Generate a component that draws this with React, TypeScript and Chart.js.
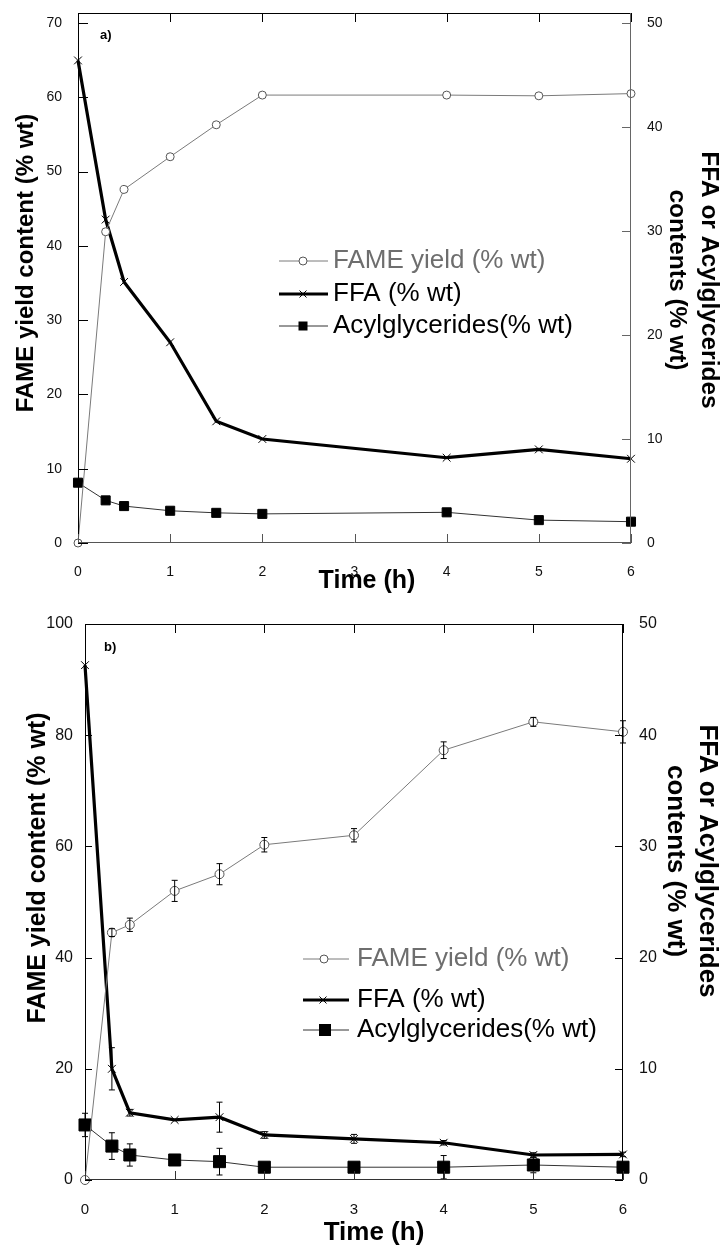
import React, { useEffect, useRef } from "react";
import { Chart, registerables } from "chart.js";

Chart.register(...registerables);

// ---------- Panel a data ----------
const timeA = [0, 0.3, 0.5, 1, 1.5, 2, 4, 5, 6];
const fameA = [0, 41.9, 47.6, 52.0, 56.3, 60.3, 60.3, 60.2, 60.5];
const ffaA = [46.4, 31.1, 25.1, 19.3, 11.7, 10.0, 8.2, 9.0, 8.1];
const acylA = [5.8, 4.1, 3.55, 3.1, 2.9, 2.8, 2.95, 2.2, 2.05];

// ---------- Panel b data ----------
const timeB = [0, 0.3, 0.5, 1, 1.5, 2, 3, 4, 5, 6];
const fameB = [0, 44.5, 45.9, 52.0, 55.0, 60.3, 62.0, 77.3, 82.4, 80.6];
const fameErrB = [0, 0.7, 1.2, 1.9, 1.9, 1.3, 1.2, 1.5, 0.8, 2.0];
const ffaB = [46.3, 10.0, 6.05, 5.4, 5.65, 4.05, 3.7, 3.35, 2.25, 2.3];
const ffaErrB = [0, 1.9, 0.3, 0, 1.35, 0.3, 0.4, 0.2, 0.2, 0.2];
const acylB = [4.95, 3.05, 2.25, 1.8, 1.65, 1.15, 1.15, 1.15, 1.35, 1.15];
const acylErrB = [1.05, 1.2, 1.0, 0.2, 1.2, 0.2, 0.2, 1.05, 0.7, 0.2];

// ---------- Labels ----------
const seriesLabels = ["FAME yield (% wt)", "FFA (% wt)", "Acylglycerides(% wt)"];
const leftTitle = "FAME yield content (% wt)";
const rightTitle = ["FFA or Acylglycerides", "contents (% wt)"];
const xTitle = "Time (h)";
const panelTags = ["a)", "b)"];

const FONT = "'Liberation Sans', Arial, Helvetica, sans-serif";

const pts = (xs: number[], ys: number[]) => xs.map((x, i) => ({ x, y: ys[i] }));

function makePlugin(c: any) {
  return {
    id: "decor" + c.tag,
    afterDatasetsDraw(chart: any) {
      const ctx = chart.ctx;
      const errs = c.errs || [];
      ctx.save();
      ctx.strokeStyle = "#000";
      ctx.lineWidth = 1;
      chart.data.datasets.forEach((ds: any, i: number) => {
        const e = errs[i];
        if (!e) return;
        const meta = chart.getDatasetMeta(i);
        const sc = chart.scales[ds.yAxisID];
        meta.data.forEach((p: any, j: number) => {
          const d = e[j];
          if (!d) return;
          const v = ds.data[j].y;
          const y1 = sc.getPixelForValue(v + d);
          const y2 = sc.getPixelForValue(v - d);
          ctx.beginPath();
          ctx.moveTo(p.x, y1);
          ctx.lineTo(p.x, y2);
          ctx.moveTo(p.x - 3, y1);
          ctx.lineTo(p.x + 3, y1);
          ctx.moveTo(p.x - 3, y2);
          ctx.lineTo(p.x + 3, y2);
          ctx.stroke();
        });
      });
      ctx.restore();
    },
    afterDraw(chart: any) {
      const ctx = chart.ctx;
      const { left, right, top, bottom } = chart.chartArea;
      const sx = chart.scales.x, sy = chart.scales.y, sy2 = chart.scales.y2;
      ctx.save();
      ctx.lineWidth = 1;
      const line = (x1: number, y1: number, x2: number, y2: number, col: string) => {
        ctx.strokeStyle = col;
        ctx.beginPath();
        ctx.moveTo(x1, y1);
        ctx.lineTo(x2, y2);
        ctx.stroke();
      };
      // frame
      line(left, top + 0.5, right, top + 0.5, "#000");
      line(left + 0.5, top, left + 0.5, bottom, "#000");
      line(right - 0.5, top, right - 0.5, bottom, c.rightColor);
      line(left, bottom - 0.5, right, bottom - 0.5, c.bottomColor);
      // inward ticks
      sx.ticks.forEach((t: any) => {
        const px = Math.round(sx.getPixelForValue(t.value)) + 0.5;
        line(px, bottom, px, bottom - c.xTick, c.bottomColor);
        line(px, top, px, top + c.xTick, "#000");
      });
      sy.ticks.forEach((t: any) => {
        const py = Math.round(sy.getPixelForValue(t.value)) + 0.5;
        line(left, py, left + c.yTick, py, "#000");
      });
      sy2.ticks.forEach((t: any) => {
        const py = Math.round(sy2.getPixelForValue(t.value)) + 0.5;
        line(right, py, right - c.y2Tick, py, c.rightColor);
      });
      // panel tag
      ctx.fillStyle = "#000";
      ctx.font = `bold 13px ${FONT}`;
      ctx.textAlign = "left";
      ctx.textBaseline = "middle";
      ctx.fillText(c.tag, c.tagX, c.tagY);
      // left title
      ctx.save();
      ctx.translate(c.lt.x, c.lt.y);
      ctx.rotate(-Math.PI / 2);
      ctx.font = `bold ${c.lt.size}px ${FONT}`;
      ctx.textAlign = "center";
      ctx.textBaseline = "alphabetic";
      ctx.fillText(leftTitle, 0, 0);
      ctx.restore();
      // right title
      rightTitle.forEach((s, k) => {
        ctx.save();
        ctx.translate(c.rt.xs[k], c.rt.y);
        ctx.rotate(Math.PI / 2);
        ctx.font = `bold ${c.rt.size}px ${FONT}`;
        ctx.textAlign = "center";
        ctx.textBaseline = "alphabetic";
        ctx.fillText(s, 0, 0);
        ctx.restore();
      });
      // x title
      ctx.font = `bold ${c.xt.size}px ${FONT}`;
      ctx.textAlign = "center";
      ctx.textBaseline = "alphabetic";
      ctx.fillText(xTitle, c.xt.x, c.xt.y);
      // legend
      const L = c.lg;
      ctx.font = `${L.size}px ${FONT}`;
      ctx.textAlign = "left";
      ctx.textBaseline = "middle";
      seriesLabels.forEach((s, k) => {
        const y = L.ys[k];
        const st = L.styles[k];
        ctx.strokeStyle = st.line;
        ctx.lineWidth = st.lw;
        ctx.beginPath();
        ctx.moveTo(L.x0, y);
        ctx.lineTo(L.x1, y);
        ctx.stroke();
        ctx.lineWidth = 1;
        const mx = L.xm[k];
        if (st.marker === "circle") {
          ctx.beginPath();
          ctx.arc(mx, y, st.r, 0, Math.PI * 2);
          ctx.fillStyle = "#fff";
          ctx.fill();
          ctx.strokeStyle = "#555";
          ctx.stroke();
        } else if (st.marker === "cross") {
          ctx.strokeStyle = "#000";
          ctx.beginPath();
          ctx.moveTo(mx - st.r, y - st.r);
          ctx.lineTo(mx + st.r, y + st.r);
          ctx.moveTo(mx - st.r, y + st.r);
          ctx.lineTo(mx + st.r, y - st.r);
          ctx.stroke();
        } else {
          ctx.fillStyle = "#000";
          ctx.fillRect(mx - st.r, y - st.r, st.r * 2, st.r * 2);
        }
        ctx.fillStyle = st.text;
        ctx.fillText(s, L.tx, y);
      });
      ctx.restore();
    },
  };
}

const zeroPad = (s: any) => {
  s.paddingTop = 0;
  s.paddingBottom = 0;
  s.paddingLeft = 0;
  s.paddingRight = 0;
};

function buildConfig(c: any) {
  const tickColor = "#111";
  const grid = { display: false, drawTicks: false };
  return {
    type: "line",
    data: {
      datasets: [
        {
          label: seriesLabels[0],
          data: pts(c.time, c.fame),
          yAxisID: "y",
          borderColor: "#7a7a7a",
          borderWidth: 1,
          pointStyle: "circle",
          pointRadius: c.circleR,
          pointBorderColor: "#555",
          pointBackgroundColor: "#fff",
          pointBorderWidth: 1,
          clip: false,
        },
        {
          label: seriesLabels[1],
          data: pts(c.time, c.ffa),
          yAxisID: "y2",
          borderColor: "#000",
          borderWidth: 3.2,
          pointStyle: "crossRot",
          pointRadius: c.crossR,
          pointBorderColor: "#000",
          pointBorderWidth: 1,
          clip: false,
        },
        {
          label: seriesLabels[2],
          data: pts(c.time, c.acyl),
          yAxisID: "y2",
          borderColor: "#333",
          borderWidth: 1,
          pointStyle: "rect",
          pointRadius: c.rectR,
          pointBorderColor: "#000",
          pointBackgroundColor: "#000",
          pointBorderWidth: 1,
          clip: false,
        },
      ],
    },
    options: {
      responsive: false,
      maintainAspectRatio: false,
      animation: false,
      devicePixelRatio: 1,
      layout: { padding: { top: c.padTop, left: 0, right: 0, bottom: 0 } },
      plugins: { legend: { display: false }, tooltip: { enabled: false }, title: { display: false } },
      scales: {
        x: {
          type: "linear",
          position: "bottom",
          min: 0,
          max: 6,
          grid,
          border: { display: false },
          ticks: { stepSize: 1, padding: c.xPad, color: tickColor, font: { family: FONT, size: c.xFont } },
          afterFit: (s: any) => { s.height = c.xH; zeroPad(s); },
        },
        y: {
          type: "linear",
          position: "left",
          min: 0,
          max: c.leftMax,
          grid,
          border: { display: false },
          ticks: { stepSize: c.leftStep, includeBounds: false, padding: c.leftPad, color: tickColor, font: { family: FONT, size: c.yFont } },
          afterFit: (s: any) => { s.width = c.leftW; zeroPad(s); },
        },
        y2: {
          type: "linear",
          position: "right",
          min: 0,
          max: c.rightMax,
          grid,
          border: { display: false },
          ticks: { stepSize: 10, includeBounds: false, padding: c.rightPad, color: tickColor, font: { family: FONT, size: c.yFont } },
          afterFit: (s: any) => { s.width = c.rightW; zeroPad(s); },
        },
      },
    },
    plugins: [makePlugin(c)],
  };
}

const cfgA = {
  tag: panelTags[0],
  height: 600,
  padTop: 13,
  leftW: 78,
  rightW: 94,
  xH: 57,
  time: timeA, fame: fameA, ffa: ffaA, acyl: acylA,
  errs: [],
  leftMax: 71.35, leftStep: 10, rightMax: 50.96,
  xFont: 14, yFont: 14,
  leftPad: 16, rightPad: 16, xPad: 21,
  circleR: 4, crossR: 5.5, rectR: 6.4,
  rightColor: "#666", bottomColor: "#555",
  xTick: 9, yTick: 10, y2Tick: 9,
  tagX: 100, tagY: 35,
  lt: { x: 33, y: 263, size: 24 },
  rt: { xs: [702, 670], y: 280, size: 24.5 },
  xt: { x: 367, y: 588, size: 25 },
  lg: {
    size: 26, x0: 279, x1: 328, tx: 333, ys: [261, 294, 326], xm: [303, 303, 303],
    styles: [
      { line: "#7a7a7a", lw: 1, marker: "circle", r: 4, text: "#6e6e6e" },
      { line: "#000", lw: 3.2, marker: "cross", r: 3.5, text: "#000" },
      { line: "#333", lw: 1, marker: "rect", r: 4.5, text: "#000" },
    ],
  },
};

const cfgB = {
  tag: panelTags[1],
  height: 649,
  padTop: 24,
  leftW: 85,
  rightW: 102,
  xH: 69,
  time: timeB, fame: fameB, ffa: ffaB, acyl: acylB,
  errs: [fameErrB, ffaErrB, acylErrB],
  leftMax: 100, leftStep: 20, rightMax: 50,
  xFont: 15, yFont: 16,
  leftPad: 12, rightPad: 16, xPad: 21,
  circleR: 4.5, crossR: 5.5, rectR: 8.5,
  rightColor: "#000", bottomColor: "#333",
  xTick: 9, yTick: 7, y2Tick: 8,
  tagX: 104, tagY: 47,
  lt: { x: 45, y: 268, size: 25 },
  rt: { xs: [700, 668], y: 261, size: 26 },
  xt: { x: 374, y: 640, size: 26 },
  lg: {
    size: 26, x0: 303, x1: 349, tx: 357, ys: [359, 400, 430], xm: [324, 323, 325],
    styles: [
      { line: "#7a7a7a", lw: 1, marker: "circle", r: 4, text: "#6e6e6e" },
      { line: "#000", lw: 3.2, marker: "cross", r: 3.5, text: "#000" },
      { line: "#333", lw: 1, marker: "rect", r: 6, text: "#000" },
    ],
  },
};

function Panel({ cfg }: { cfg: any }) {
  const ref = useRef<HTMLCanvasElement>(null);
  useEffect(() => {
    const chart = new Chart(ref.current as HTMLCanvasElement, buildConfig(cfg) as any);
    return () => chart.destroy();
  }, [cfg]);
  return (
    <canvas
      ref={ref}
      width={725}
      height={cfg.height}
      style={{ display: "block", width: 725, height: cfg.height }}
    />
  );
}

export default function App() {
  return (
    <div style={{ position: "absolute", left: 0, top: 0, width: 725, height: 1249, background: "#fff" }}>
      <Panel cfg={cfgA} />
      <Panel cfg={cfgB} />
    </div>
  );
}
